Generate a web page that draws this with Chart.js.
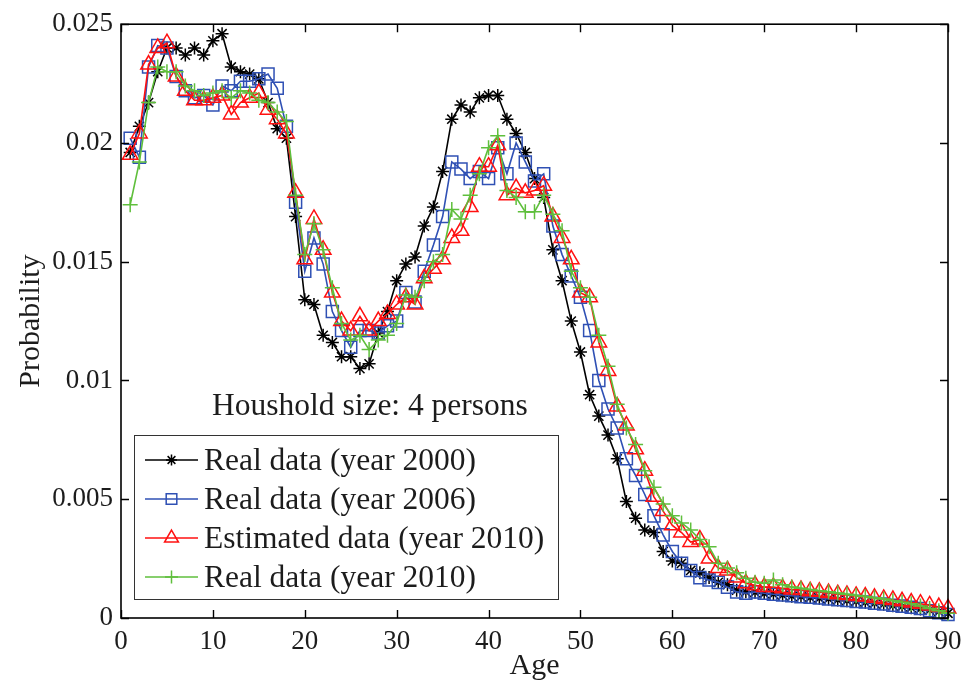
<!DOCTYPE html>
<html>
<head>
<meta charset="utf-8">
<script src="https://cdn.jsdelivr.net/npm/chart.js@4/dist/chart.umd.min.js"></script>
<style>
  html, body { margin: 0; padding: 0; background: #fff; }
  #c { display: block; }
</style>
</head>
<body>
<canvas id="c" width="974" height="688"></canvas>
<script>
const ages = Array.from({length: 90}, (_, i) => i + 1);

const seriesNames = [
  'Real data (year 2000)',
  'Real data (year 2006)',
  'Estimated data (year 2010)',
  'Real data (year 2010)'
];

const real2000 = [
  0.0196, 0.0207, 0.0217, 0.0230, 0.0240, 0.0240, 0.0237, 0.0240, 0.0237, 0.0243,
  0.0246, 0.0232, 0.0230, 0.0229, 0.0227, 0.0217, 0.0206, 0.0202, 0.0169, 0.0134,
  0.0132, 0.0119, 0.0116, 0.0110, 0.0110, 0.0105, 0.0107, 0.0120, 0.0129, 0.0142,
  0.0149, 0.0152, 0.0165, 0.0173, 0.0188, 0.0210, 0.0216, 0.0213, 0.0219, 0.0220,
  0.0220, 0.0210, 0.0204, 0.0196, 0.0185, 0.0177, 0.0155, 0.0142, 0.0125, 0.0112,
  0.0094, 0.0085, 0.0077, 0.0067, 0.0049, 0.0042, 0.0037, 0.0036, 0.0028, 0.0024,
  0.0023, 0.0020, 0.0019, 0.0017, 0.0015, 0.0014, 0.00117, 0.0011, 0.00108, 0.00103,
  0.0010, 0.00096, 0.00092, 0.0009, 0.00086, 0.00083, 0.0008, 0.00076, 0.00073, 0.0007,
  0.00066, 0.00062, 0.00058, 0.00052, 0.00048, 0.00043, 0.00038, 0.00033, 0.00027, 0.0002
];

const real2006 = [
  0.0202, 0.0194, 0.0232, 0.0241, 0.0240, 0.0228, 0.0222, 0.0219, 0.0220, 0.0216,
  0.0224, 0.0222, 0.0226, 0.0226, 0.0227, 0.0229, 0.0223, 0.0207, 0.0175, 0.0146,
  0.0160, 0.0149, 0.0129, 0.0121, 0.0114, 0.0121, 0.0121, 0.0120, 0.0123, 0.0125,
  0.0137, 0.0133, 0.0146, 0.0157, 0.0169, 0.0192, 0.0189, 0.0185, 0.0188, 0.0185,
  0.0198, 0.0187, 0.0200, 0.0192, 0.0184, 0.0187, 0.0165, 0.0153, 0.0144, 0.0135,
  0.0121, 0.0100, 0.0088, 0.0080, 0.0067, 0.0060, 0.0052, 0.0043, 0.0035, 0.0028,
  0.0023, 0.0020, 0.0017, 0.0016, 0.0015, 0.0013, 0.0011, 0.00104, 0.0011, 0.00104,
  0.0010, 0.00097, 0.00094, 0.0009, 0.00087, 0.00084, 0.0008, 0.00077, 0.00074, 0.0007,
  0.00067, 0.00062, 0.00059, 0.00054, 0.0005, 0.00045, 0.0004, 0.00031, 0.00022, 0.00015
];

const estimated2010 = [
  0.0195, 0.0204, 0.0233, 0.0240, 0.0242, 0.0228, 0.0222, 0.0218, 0.0218, 0.0219,
  0.0220, 0.0212, 0.0217, 0.0219, 0.0221, 0.0214, 0.0210, 0.0204, 0.0179, 0.0151,
  0.0168, 0.0155, 0.0137, 0.0125, 0.0121, 0.0127, 0.0121, 0.0125, 0.0128, 0.0132,
  0.0135, 0.0132, 0.0143, 0.0147, 0.0151, 0.0160, 0.0163, 0.0173, 0.0190, 0.0190,
  0.0199, 0.0178, 0.0181, 0.0179, 0.0180, 0.0182, 0.0169, 0.0160, 0.0151, 0.0137,
  0.0135, 0.0116, 0.0104, 0.0089, 0.0081, 0.0071, 0.0062, 0.0051, 0.0045, 0.0039,
  0.0036, 0.0032, 0.0033, 0.0025, 0.0021, 0.0020, 0.0017, 0.00146, 0.00138, 0.0013,
  0.0013, 0.00125, 0.0012, 0.00118, 0.00113, 0.0011, 0.00105, 0.0010, 0.00097, 0.00093,
  0.0009, 0.00085, 0.0008, 0.00076, 0.0007, 0.00065, 0.0006, 0.00053, 0.00046, 0.0004
];

const real2010 = [
  0.0174, 0.0192, 0.0217, 0.0232, 0.0230, 0.0230, 0.0224, 0.0222, 0.0220, 0.0221,
  0.0222, 0.0219, 0.0222, 0.0221, 0.0218, 0.0217, 0.0213, 0.0209, 0.0178, 0.0153,
  0.0166, 0.0155, 0.0139, 0.0124, 0.0117, 0.0119, 0.0113, 0.0117, 0.0119, 0.0124,
  0.0136, 0.0135, 0.0142, 0.0150, 0.0153, 0.0172, 0.0168, 0.0178, 0.0187, 0.0198,
  0.0203, 0.0180, 0.0177, 0.0171, 0.0171, 0.0178, 0.0170, 0.0163, 0.0146, 0.0139,
  0.0135, 0.0119, 0.0106, 0.0090, 0.0080, 0.0073, 0.0062, 0.0055, 0.0048, 0.0043,
  0.0040, 0.0037, 0.0033, 0.0030, 0.0023, 0.0021, 0.0019, 0.00167, 0.0015, 0.00146,
  0.0016, 0.0014, 0.0013, 0.00125, 0.0012, 0.00115, 0.0011, 0.00105, 0.0010, 0.00095,
  0.0009, 0.00085, 0.0008, 0.00073, 0.00066, 0.0006, 0.0005, 0.0004, 0.0003, 0.0002
];

const xTickValues = [0, 10, 20, 30, 40, 50, 60, 70, 80, 90];
const yTickLabels = ['0', '0.005', '0.01', '0.015', '0.02', '0.025'];
const annotationText = 'Houshold size: 4 persons';

const colors = ['#000000', '#2f50b4', '#ff1010', '#5fbf3c'];
const styles = [
  {pointStyle: 'star', radius: 6.5},
  {pointStyle: 'rect', radius: 8.5},
  {pointStyle: 'triangle', radius: 9},
  {pointStyle: 'cross', radius: 7.5}
];
const seriesData = [real2000, real2006, estimated2010, real2010];

const SERIF = '"Liberation Serif", "Times New Roman", serif';
const TEXT = '#1c1c1c';

const datasets = seriesData.map((arr, i) => ({
  label: seriesNames[i],
  data: ages.map((a, j) => ({x: a, y: arr[j]})),
  borderColor: colors[i],
  backgroundColor: 'rgba(0,0,0,0)',
  pointBorderColor: colors[i],
  pointBackgroundColor: 'rgba(0,0,0,0)',
  borderWidth: 1.6,
  pointBorderWidth: 1.5,
  pointStyle: styles[i].pointStyle,
  pointRadius: styles[i].radius,
  tension: 0,
  clip: false,
  order: 4 - i
}));

const framePlugin = {
  id: 'framePlugin',
  afterDraw(chart) {
    const ctx = chart.ctx;
    const a = chart.chartArea;
    const xs = chart.scales.x, ys = chart.scales.y;
    ctx.save();
    ctx.strokeStyle = '#000';
    ctx.lineWidth = 1.6;
    ctx.strokeRect(a.left, a.top, a.right - a.left, a.bottom - a.top);
    ctx.lineWidth = 1.4;
    const tl = 8;
    ctx.beginPath();
    xTickValues.forEach(v => {
      const px = Math.round(xs.getPixelForValue(v)) + 0.5;
      ctx.moveTo(px, a.bottom); ctx.lineTo(px, a.bottom - tl);
      ctx.moveTo(px, a.top); ctx.lineTo(px, a.top + tl);
    });
    yTickLabels.forEach((_, i) => {
      const py = Math.round(ys.getPixelForValue(i * 0.005)) + 0.5;
      ctx.moveTo(a.left, py); ctx.lineTo(a.left + tl, py);
      ctx.moveTo(a.right, py); ctx.lineTo(a.right - tl, py);
    });
    ctx.stroke();

    // annotation text
    ctx.fillStyle = TEXT;
    ctx.font = '31.5px ' + SERIF;
    ctx.textBaseline = 'alphabetic';
    ctx.textAlign = 'left';
    ctx.fillText(annotationText, 212, 415);

    // legend box
    const bx = 134, by = 435, bw = 424, bh = 164;
    ctx.fillStyle = '#fff';
    ctx.fillRect(bx, by, bw, bh);
    ctx.strokeStyle = '#333';
    ctx.lineWidth = 1;
    ctx.strokeRect(bx + 0.5, by + 0.5, bw, bh);
    const rows = [460, 499, 538, 577];
    rows.forEach((ry, i) => {
      ctx.strokeStyle = colors[i];
      ctx.lineWidth = 1.6;
      ctx.beginPath();
      ctx.moveTo(145, ry); ctx.lineTo(198, ry);
      ctx.stroke();
      ctx.fillStyle = 'rgba(0,0,0,0)';
      ctx.lineWidth = 1.5;
      Chart.helpers.drawPoint(ctx, {
        pointStyle: styles[i].pointStyle,
        radius: styles[i].radius - 1,
        rotation: 0,
        borderWidth: 1.5
      }, 171.5, ry);
      ctx.fillStyle = TEXT;
      ctx.font = '31.5px ' + SERIF;
      ctx.textBaseline = 'alphabetic';
      ctx.fillText(seriesNames[i], 204, ry + 10);
    });
    ctx.restore();
  }
};

new Chart(document.getElementById('c'), {
  type: 'line',
  data: { datasets },
  options: {
    responsive: false,
    animation: false,
    events: [],
    layout: { padding: { top: 18, right: 26, left: 0, bottom: 0 } },
    plugins: {
      legend: { display: false },
      tooltip: { enabled: false }
    },
    scales: {
      x: {
        type: 'linear',
        min: 0,
        max: 90,
        afterBuildTicks: (s) => { s.ticks = xTickValues.map(v => ({value: v})); },
        ticks: {
          font: { family: SERIF, size: 27 },
          color: TEXT,
          padding: 8,
          maxRotation: 0,
          autoSkip: false
        },
        grid: { display: false, drawTicks: false, tickLength: 0 },
        border: { display: false },
        title: {
          display: true,
          text: 'Age',
          font: { family: SERIF, size: 30 },
          color: TEXT,
          padding: { top: 0, bottom: 4 }
        },
        afterFit: (s) => { s.height = 70; }
      },
      y: {
        type: 'linear',
        min: 0,
        max: 0.025,
        ticks: {
          stepSize: 0.005,
          font: { family: SERIF, size: 27 },
          color: TEXT,
          padding: 8,
          callback: (v, i) => yTickLabels[i]
        },
        grid: { display: false, drawTicks: false, tickLength: 0 },
        border: { display: false },
        title: {
          display: true,
          text: 'Probability',
          font: { family: SERIF, size: 30 },
          color: TEXT,
          padding: { top: 13, bottom: 0 }
        },
        afterFit: (s) => { s.width = 121; }
      }
    }
  },
  plugins: [framePlugin]
});
</script>
</body>
</html>
